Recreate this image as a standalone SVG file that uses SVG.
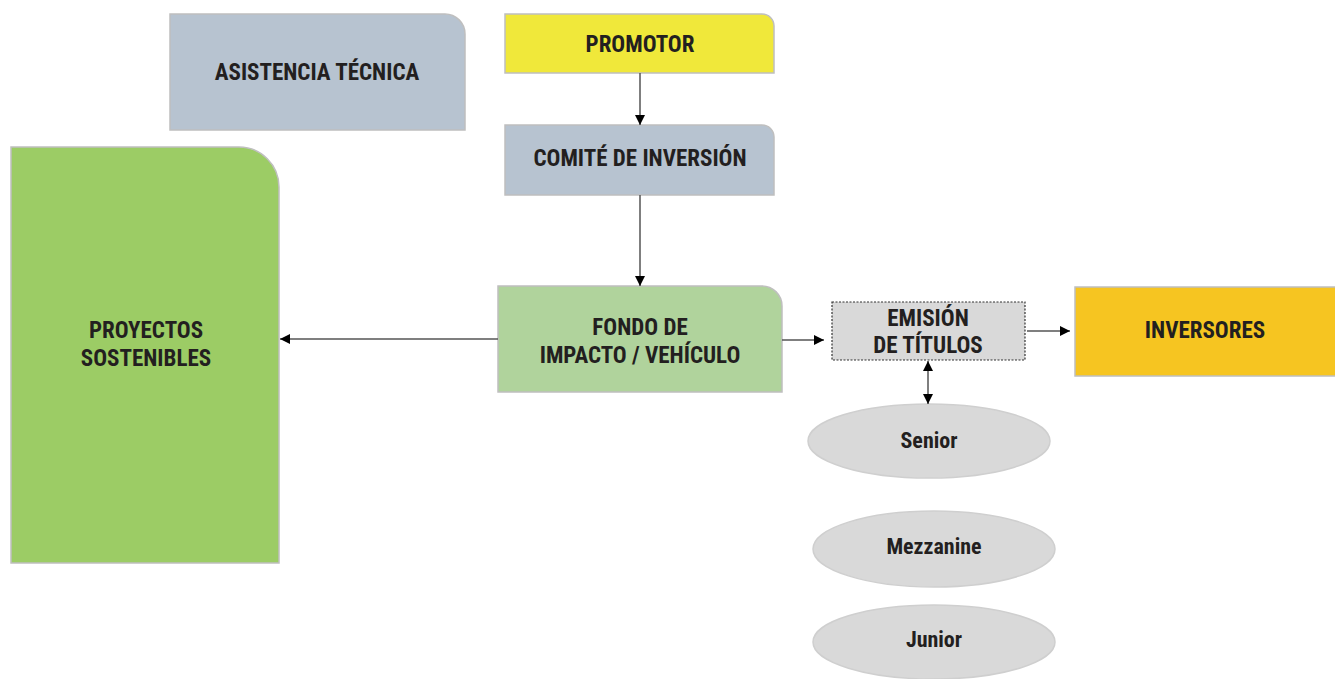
<svg xmlns="http://www.w3.org/2000/svg" width="1335" height="679" viewBox="0 0 1335 679">
<style>
.box{stroke:#BFBFBF;stroke-width:1.5}
.t{font-family:"Liberation Sans Narrow","Roboto Condensed","Liberation Sans",sans-serif;font-weight:bold;font-size:23px;fill:#231F20;text-anchor:middle;dominant-baseline:central}
.e{fill:#D9D9D9;stroke:#CFCFCF;stroke-width:1.5}
.c{stroke:#555;stroke-width:1.5;fill:none}
</style>
<defs>
<marker id="ah" viewBox="0 0 10 10" refX="10" refY="5" markerWidth="10" markerHeight="10" markerUnits="userSpaceOnUse" orient="auto-start-reverse">
<path d="M0,0 L10,5 L0,10 Z" fill="#000"/>
</marker>
</defs>
<g id="asistencia">
<path class="box" d="M170,14 H445 A20,20 0 0 1 465,34 V130 H170 Z" fill="#B7C3D0"/>
<text class="t" x="317" y="72">ASISTENCIA TÉCNICA</text>
</g>
<g id="promotor">
<path class="box" d="M505,14 H762 A12,12 0 0 1 774,26 V73 H505 Z" fill="#F0E83A"/>
<text class="t" x="640" y="44">PROMOTOR</text>
</g>
<g id="comite">
<path class="box" d="M505,125 H762 A12,12 0 0 1 774,137 V195 H505 Z" fill="#B7C3D0"/>
<text class="t" x="640" y="158">COMITÉ DE INVERSIÓN</text>
</g>
<g id="proyectos">
<path class="box" d="M11,147 H239 A40,40 0 0 1 279,187 V563 H11 Z" fill="#9CCC65"/>
<text class="t" x="146" y="330">PROYECTOS</text>
<text class="t" x="146" y="358">SOSTENIBLES</text>
</g>
<g id="fondo">
<path class="box" d="M498,286 H762 A20,20 0 0 1 782,306 V392 H498 Z" fill="#B0D39C"/>
<text class="t" x="640" y="327">FONDO DE</text>
<text class="t" x="640" y="355">IMPACTO / VEHÍCULO</text>
</g>
<g id="emision">
<rect x="832" y="302" width="193" height="58" fill="#D9D9D9" stroke="#333" stroke-width="1.2" stroke-dasharray="2,1.5"/>
<text class="t" x="928" y="318">EMISIÓN</text>
<text class="t" x="928" y="345">DE TÍTULOS</text>
</g>
<g id="inversores">
<rect class="box" x="1075" y="287" width="262" height="89" fill="#F6C521"/>
<text class="t" x="1205" y="330">INVERSORES</text>
</g>
<g id="senior">
<ellipse class="e" cx="929" cy="441" rx="121" ry="37"/>
<text class="t" x="929" y="440" style="font-size:22px">Senior</text>
</g>
<g id="mezzanine">
<ellipse class="e" cx="934" cy="549" rx="121" ry="38"/>
<text class="t" x="934" y="546" style="font-size:22px">Mezzanine</text>
</g>
<g id="junior">
<ellipse class="e" cx="934" cy="642" rx="121" ry="37"/>
<text class="t" x="934" y="639" style="font-size:22px">Junior</text>
</g>
<g id="connectors">
<line class="c" x1="640" y1="73" x2="640" y2="125" marker-end="url(#ah)"/>
<line class="c" x1="640" y1="195" x2="640" y2="286" marker-end="url(#ah)"/>
<line class="c" x1="498" y1="339" x2="280" y2="339" marker-end="url(#ah)"/>
<line class="c" x1="782" y1="340" x2="824" y2="340" marker-end="url(#ah)"/>
<line class="c" x1="1027" y1="331" x2="1070" y2="331" marker-end="url(#ah)"/>
<line class="c" x1="928" y1="361" x2="928" y2="404" marker-start="url(#ah)" marker-end="url(#ah)"/>
</g>
</svg>
